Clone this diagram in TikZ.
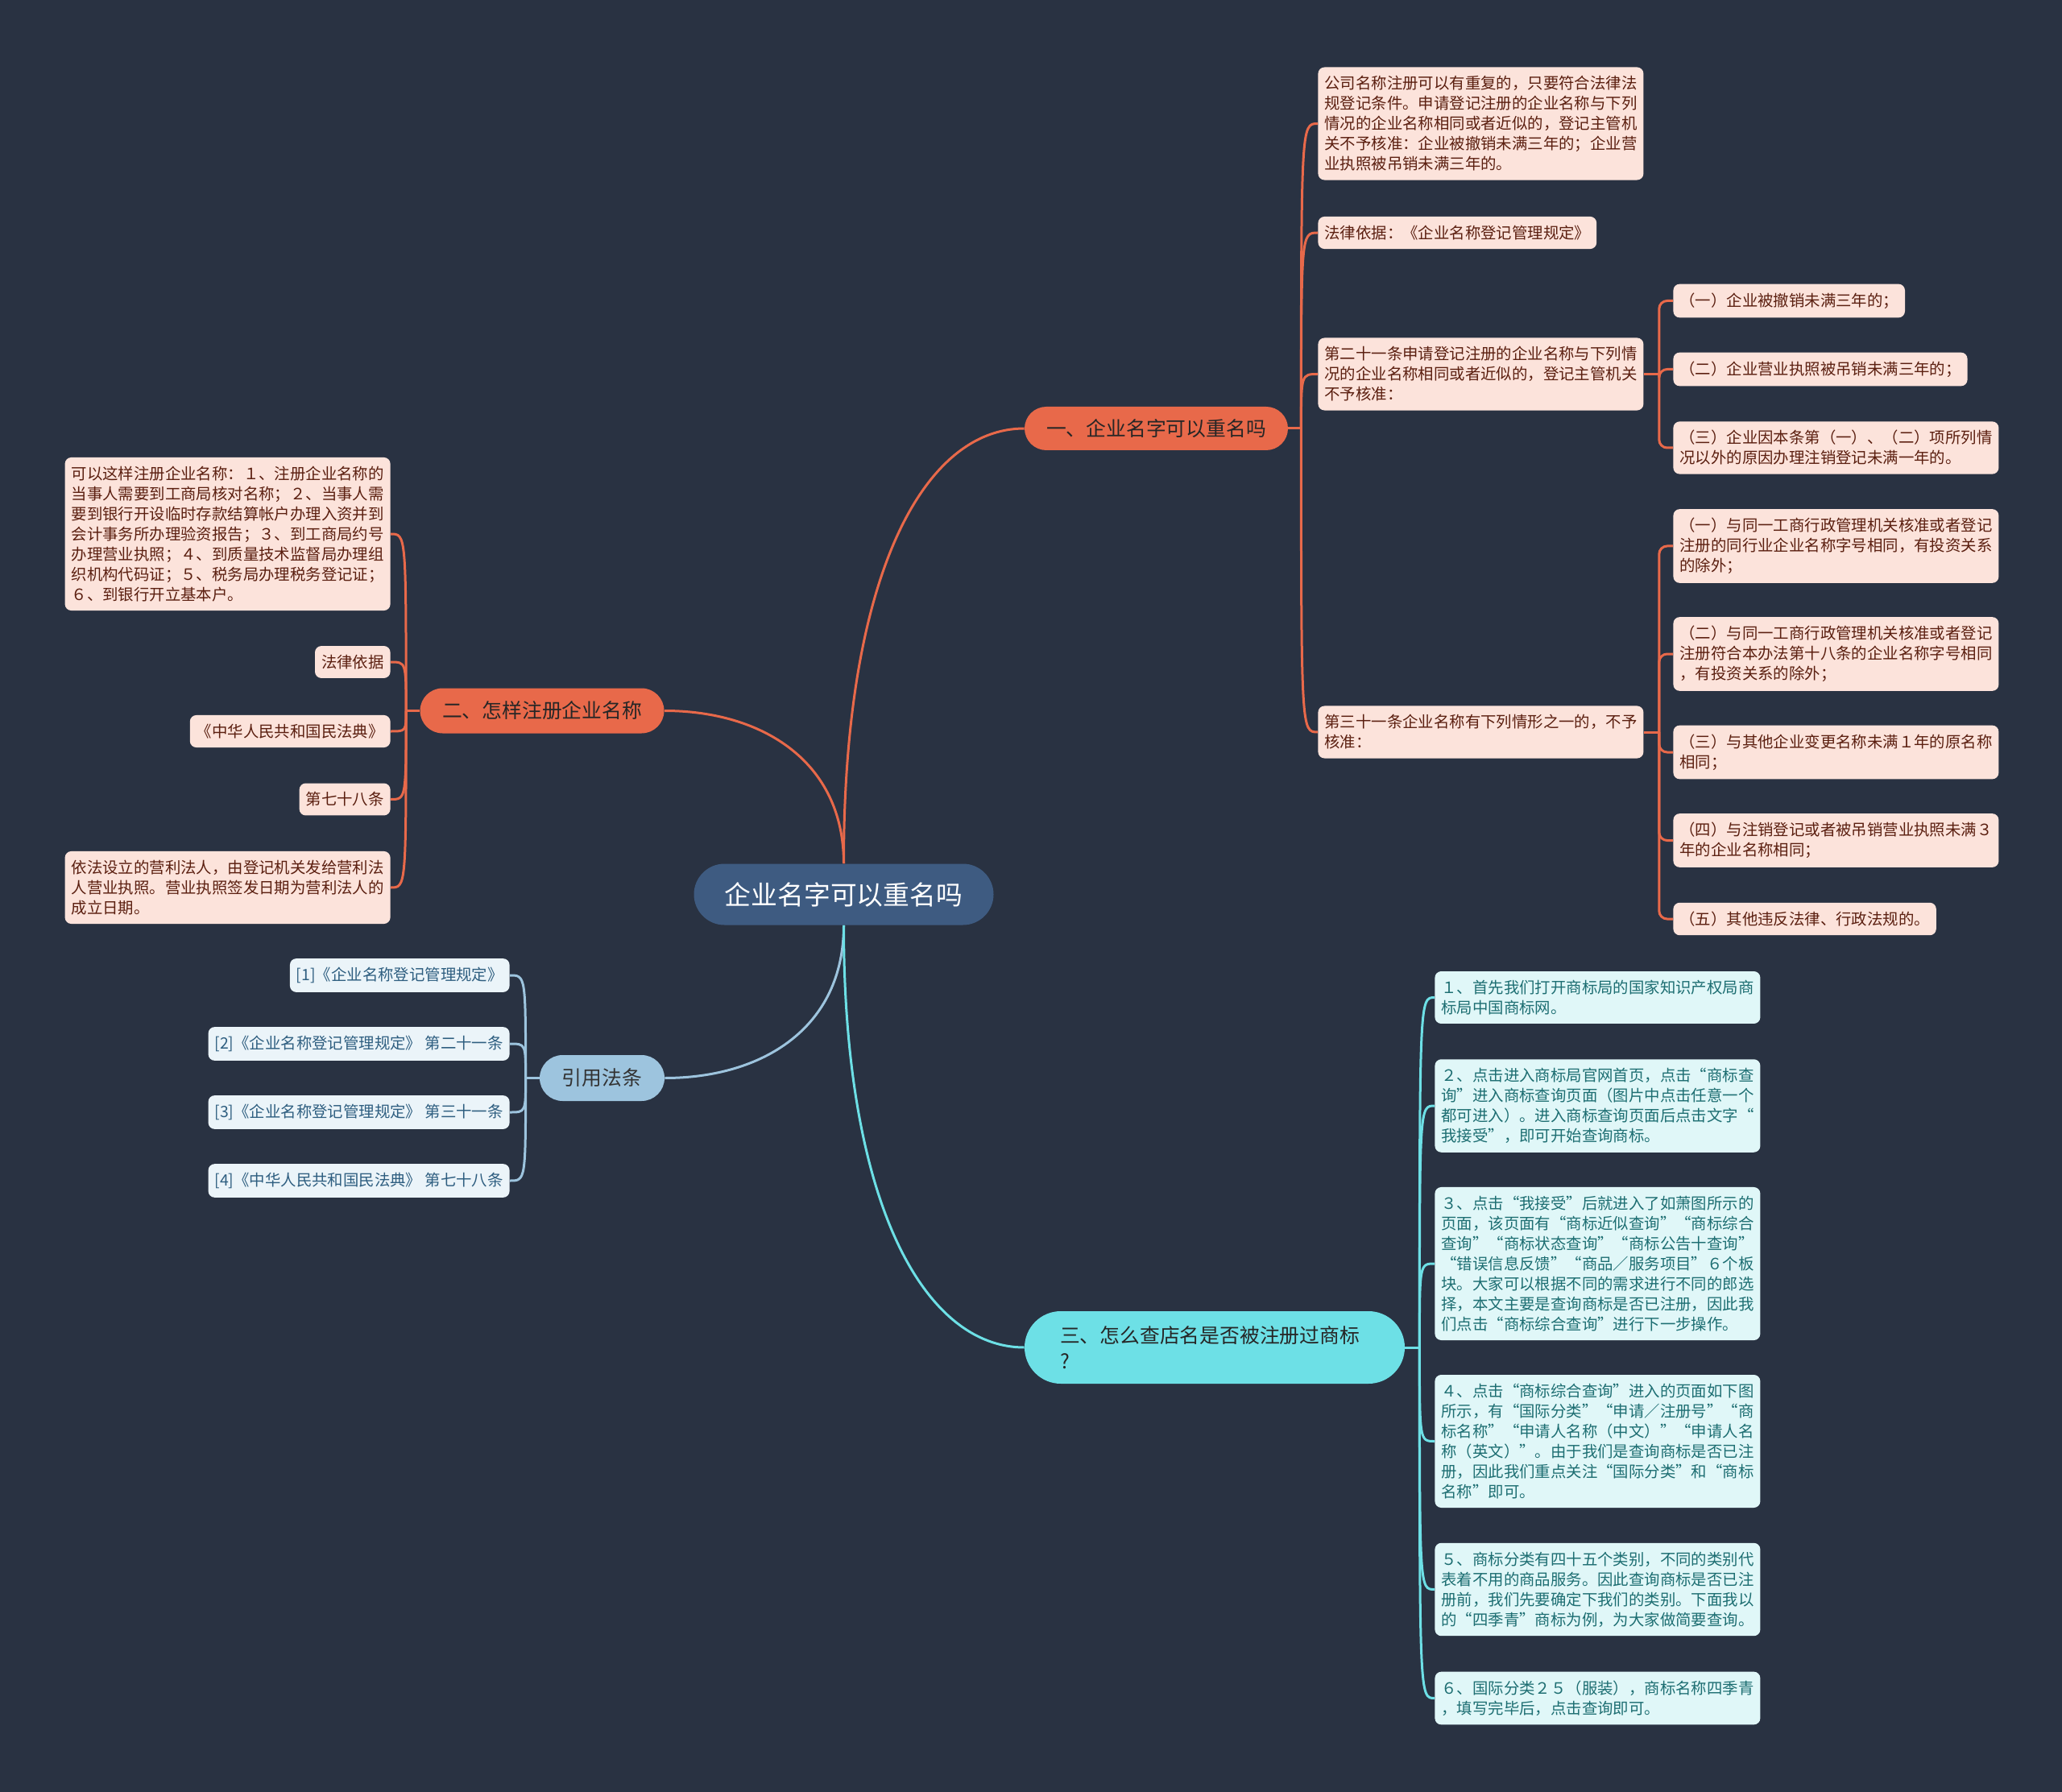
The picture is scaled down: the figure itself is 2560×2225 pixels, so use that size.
\documentclass[tikz,border=0pt]{standalone}
\usepackage{fontspec}
\setmainfont{Noto Sans CJK SC}
\usetikzlibrary{calc}
\definecolor{bg}{HTML}{293242}
\definecolor{rootc}{HTML}{3E5B81}
\definecolor{orn}{HTML}{E8694A}
\definecolor{ornlt}{HTML}{FCE3DB}
\definecolor{orntx}{HTML}{5B1F10}
\definecolor{blu}{HTML}{9DC4DE}
\definecolor{blult}{HTML}{EBF4F9}
\definecolor{blutx}{HTML}{2E5E80}
\definecolor{cyn}{HTML}{6DE0E6}
\definecolor{cynlt}{HTML}{E0F7F8}
\definecolor{cyntx}{HTML}{1D6E72}
\tikzset{
  leaf/.style={rectangle, rounded corners=4pt, inner xsep=4pt, inner ysep=5.5pt,
    font=\fontsize{9.7}{12.5}\selectfont, align=left},
  wide/.style={text width=194pt},
  oleaf/.style={leaf, fill=ornlt, text=orntx},
  bleaf/.style={leaf, fill=blult, text=blutx},
  cleaf/.style={leaf, fill=cynlt, text=cyntx},
  pill/.style={rectangle, inner sep=0pt, align=center, font=\fontsize{12.4}{16}\selectfont},
  oline/.style={draw=orn, line width=1.5pt},
  bline/.style={draw=blu, line width=1.5pt},
  cline/.style={draw=cyn, line width=1.5pt},
}
\begin{document}
\begin{tikzpicture}[x=0.5pt, y=-0.5pt]
\useasboundingbox (0,0) rectangle (2560,2225);
\fill[bg] (0,0) rectangle (2560,2225);

% root and main branches
\node[pill, fill=rootc, text=white, minimum width=186pt, minimum height=38pt, rounded corners=19pt,
  font=\fontsize{16.4}{20}\selectfont] (root) at (1047.5,1110.5) {企业名字可以重名吗};
\node[pill, fill=orn, text=black!85, minimum width=163.5pt, minimum height=27pt, rounded corners=13.5pt]
  (b1) at (1435.5,532) {一、企业名字可以重名吗};
\node[pill, fill=orn, text=black!85, minimum width=151.5pt, minimum height=28pt, rounded corners=14pt]
  (b2) at (673,882.5) {二、怎样注册企业名称};
\node[pill, fill=blu, text=black!80, minimum width=77.5pt, minimum height=28.5pt, rounded corners=14.25pt]
  (b4) at (747.5,1338.5) {引用法条};
\node[pill, fill=cyn, text=black!85, align=left, inner xsep=22pt, text width=192pt, minimum height=45pt,
  rounded corners=22.5pt] (b3) at (1508,1673) {三、怎么查店名是否被注册过商标\\?};

% branch 1 children
\node[oleaf, wide, anchor=west] (c1a) at (1636,153.5) {公司名称注册可以有重复的，只要符合法律法\\规登记条件。申请登记注册的企业名称与下列\\情况的企业名称相同或者近似的，登记主管机\\关不予核准：企业被撤销未满三年的；企业营\\业执照被吊销未满三年的。};
\node[oleaf, anchor=west] (c1b) at (1636,289) {法律依据：《企业名称登记管理规定》};
\node[oleaf, wide, anchor=west] (c1c) at (1636,464.5) {第二十一条申请登记注册的企业名称与下列情\\况的企业名称相同或者近似的，登记主管机关\\不予核准：};
\node[oleaf, wide, anchor=west] (c1d) at (1636,909) {第三十一条企业名称有下列情形之一的，不予\\核准：};

\node[oleaf, anchor=west] (g1) at (2077,373.5) {（一）企业被撤销未满三年的；};
\node[oleaf, anchor=west] (g2) at (2077,458.5) {（二）企业营业执照被吊销未满三年的；};
\node[oleaf, wide, anchor=west] (g3) at (2077,556) {（三）企业因本条第（一）、（二）项所列情\\况以外的原因办理注销登记未满一年的。};

\node[oleaf, wide, anchor=west] (h1) at (2077,678) {（一）与同一工商行政管理机关核准或者登记\\注册的同行业企业名称字号相同，有投资关系\\的除外；};
\node[oleaf, wide, anchor=west] (h2) at (2077,812) {（二）与同一工商行政管理机关核准或者登记\\注册符合本办法第十八条的企业名称字号相同\\，有投资关系的除外；};
\node[oleaf, wide, anchor=west] (h3) at (2077,934) {（三）与其他企业变更名称未满１年的原名称\\相同；};
\node[oleaf, wide, anchor=west] (h4) at (2077,1043.5) {（四）与注销登记或者被吊销营业执照未满３\\年的企业名称相同；};
\node[oleaf, anchor=west] (h5) at (2077,1141) {（五）其他违反法律、行政法规的。};

% branch 2 children
\node[oleaf, wide, anchor=east] (c2a) at (485,663) {可以这样注册企业名称：１、注册企业名称的\\当事人需要到工商局核对名称；２、当事人需\\要到银行开设临时存款结算帐户办理入资并到\\会计事务所办理验资报告；３、到工商局约号\\办理营业执照；４、到质量技术监督局办理组\\织机构代码证；５、税务局办理税务登记证；\\６、到银行开立基本户。};
\node[oleaf, anchor=east] (c2b) at (485,822) {法律依据};
\node[oleaf, anchor=east] (c2c) at (485,908) {《中华人民共和国民法典》};
\node[oleaf, anchor=east] (c2d) at (485,992.5) {第七十八条};
\node[oleaf, wide, anchor=east] (c2e) at (485,1102) {依法设立的营利法人，由登记机关发给营利法\\人营业执照。营业执照签发日期为营利法人的\\成立日期。};

% references
\node[bleaf, anchor=east] (r1) at (633,1211) {[1]《企业名称登记管理规定》};
\node[bleaf, anchor=east] (r2) at (633,1296) {[2]《企业名称登记管理规定》~第二十一条};
\node[bleaf, anchor=east] (r3) at (633,1381) {[3]《企业名称登记管理规定》~第三十一条};
\node[bleaf, anchor=east] (r4) at (633,1466) {[4]《中华人民共和国民法典》~第七十八条};

% branch 3 children
\node[cleaf, wide, anchor=west] (s1) at (1781,1238.5) {１、首先我们打开商标局的国家知识产权局商\\标局中国商标网。};
\node[cleaf, wide, anchor=west] (s2) at (1781,1373) {２、点击进入商标局官网首页，点击“商标查\\询”进入商标查询页面（图片中点击任意一个\\都可进入）。进入商标查询页面后点击文字“\\我接受”，即可开始查询商标。};
\node[cleaf, wide, anchor=west] (s3) at (1781,1569) {３、点击“我接受”后就进入了如萧图所示的\\页面，该页面有“商标近似查询”“商标综合\\查询”“商标状态查询”“商标公告十查询”\\“错误信息反馈”“商品／服务项目”６个板\\块。大家可以根据不同的需求进行不同的郎选\\择，本文主要是查询商标是否已注册，因此我\\们点击“商标综合查询”进行下一步操作。};
\node[cleaf, wide, anchor=west] (s4) at (1781,1789.5) {４、点击“商标综合查询”进入的页面如下图\\所示，有“国际分类”“申请／注册号”“商\\标名称”“申请人名称（中文）”“申请人名\\称（英文）”。由于我们是查询商标是否已注\\册，因此我们重点关注“国际分类”和“商标\\名称”即可。};
\node[cleaf, wide, anchor=west] (s5) at (1781,1973.5) {５、商标分类有四十五个类别，不同的类别代\\表着不用的商品服务。因此查询商标是否已注\\册前，我们先要确定下我们的类别。下面我以\\的“四季青”商标为例，为大家做简要查询。};
\node[cleaf, wide, anchor=west] (s6) at (1781,2108.5) {６、国际分类２５（服装），商标名称四季青\\，填写完毕后，点击查询即可。};

% main connectors
\draw[oline] (root.north) .. controls (1047.5,711) and (1148,532) .. (b1.west);
\draw[oline] (root.north) .. controls (1047.5,946) and (947,882.5) .. (b2.east);
\draw[bline] (root.south) .. controls (1047.5,1276) and (947,1338.5) .. (b4.east);
\draw[cline] (root.south) .. controls (1047.5,1500) and (1150,1673) .. (b3.west);

% branch 1 trunk
\draw[oline] (b1.east) -- ++(16,0) coordinate (J1);
\foreach \n in {c1a,c1b,c1c,c1d}
  \draw[oline] (J1) .. controls (J1 |- \n.west) .. (\n.west);
\draw[oline] (c1c.east) -- ++(19,0) coordinate (K1);
\foreach \n in {g1,g2,g3}
  \draw[oline, rounded corners=5pt] (K1) |- (\n.west);
\draw[oline] (c1d.east) -- ++(19,0) coordinate (K2);
\foreach \n in {h1,h2,h3,h4,h5}
  \draw[oline, rounded corners=5pt] (K2) |- (\n.west);

% branch 2 trunk
\draw[oline] (b2.west) -- ++(-17,0) coordinate (J2);
\foreach \n in {c2a,c2b,c2c,c2d,c2e}
  \draw[oline] (J2) .. controls (J2 |- \n.east) .. (\n.east);

% references trunk
\draw[bline] (b4.west) -- ++(-17,0) coordinate (J4);
\foreach \n in {r1,r2,r3,r4}
  \draw[bline] (J4) .. controls (J4 |- \n.east) .. (\n.east);

% branch 3 trunk
\draw[cline] (b3.east) -- ++(18,0) coordinate (J3);
\foreach \n in {s1,s2,s3,s4,s5,s6}
  \draw[cline] (J3) .. controls (J3 |- \n.west) .. (\n.west);
\end{tikzpicture}
\end{document}
